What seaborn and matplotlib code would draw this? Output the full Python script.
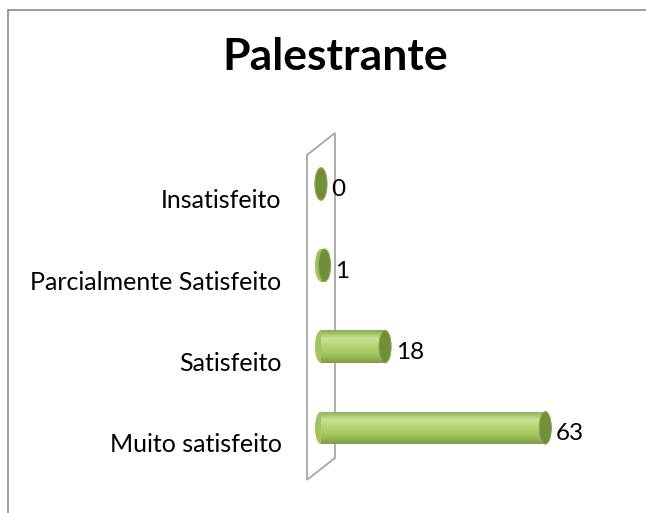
import numpy as np
import pandas as pd
import seaborn as sns
import matplotlib.pyplot as plt
from matplotlib.patches import Ellipse, Polygon
from matplotlib.lines import Line2D
from matplotlib.transforms import ScaledTranslation
from matplotlib.colors import LinearSegmentedColormap

categories = ['Insatisfeito', 'Parcialmente Satisfeito', 'Satisfeito', 'Muito satisfeito']
values = [0, 1, 18, 63]
title = 'Palestrante'

df = pd.DataFrame({'categoria': categories, 'respostas': values})

sns.set_style('white')
plt.rcParams['font.family'] = ['Lato', 'DejaVu Sans']

fig = plt.figure(figsize=(6.46, 5.13), dpi=100)
W, H = 646, 513
ax = fig.add_axes([290 / W, 23 / H, 350 / W, 370 / H])

bar_h = 0.4
sns.barplot(data=df, y='categoria', x='respostas', orient='h', color='#a6ca62',
            width=bar_h, ax=ax, linewidth=0)

ax.set_xlim(-8.7, 89.6)
ax.set_ylim(3.764, -0.787)

# back wall (3d style)
wall = Polygon([(-3.93, -0.357), (3.93, -0.627), (3.93, 3.37), (-3.93, 3.64)],
               closed=True, facecolor='white', edgecolor='#a6a6a6', lw=1.3, zorder=0.5)
ax.add_patch(wall)

# cylinder shading
grad = LinearSegmentedColormap.from_list('cyl', ['#8aad4c', '#c8e292', '#b4d472', '#a0c45c', '#7d9e43'])
g = np.linspace(0, 1, 64).reshape(-1, 1)
cap_w = 3.4
bars = [p for p in ax.patches if not isinstance(p, Polygon)]
for p in bars:
    x0, y0 = p.get_x(), p.get_y()
    w, h = p.get_width(), p.get_height()
    p.set_zorder(2)
    start = Ellipse((0, y0 + h / 2), cap_w, h, facecolor='#a2c45e', edgecolor='none', zorder=1.9)
    ax.add_patch(start)
    if w > 0:
        im = ax.imshow(g, cmap=grad, aspect='auto', extent=(x0, x0 + w, y0 + h, y0), zorder=2.1)
        im.set_clip_path(p)
    end = Ellipse((w, y0 + h / 2), cap_w, h, facecolor='#6f8f3a', edgecolor='#8aab4c',
                  lw=0.8, zorder=2.5)
    ax.add_patch(end)

for i, v in enumerate(values):
    t = ax.text(v + 3.0, i, str(v), va='center', ha='left', fontsize=17.5, color='black')
    t.set_transform(t.get_transform() + ScaledTranslation(0, -6 / 100, fig.dpi_scale_trans))

ax.set_xlabel('')
ax.set_ylabel('')
ax.set_xticks([])
ax.tick_params(axis='y', length=0, pad=6, labelsize=18, labelcolor='black')
for lab in ax.get_yticklabels():
    lab.set_transform(lab.get_transform() + ScaledTranslation(0, -15 / 100, fig.dpi_scale_trans))
for s in ax.spines.values():
    s.set_visible(False)

fig.text(335 / W, 1 - 57 / H, title, ha='center', va='center', fontsize=32,
         fontweight='bold', color='black')

# chart area border (left and top only visible)
fig.add_artist(Line2D([8 / W, 8 / W], [0, 1 - 10 / H], color='#8c8c8c', lw=1.2))
fig.add_artist(Line2D([8 / W, 1], [1 - 10 / H, 1 - 10 / H], color='#8c8c8c', lw=1.2))

fig.savefig('out.png', dpi=100)
